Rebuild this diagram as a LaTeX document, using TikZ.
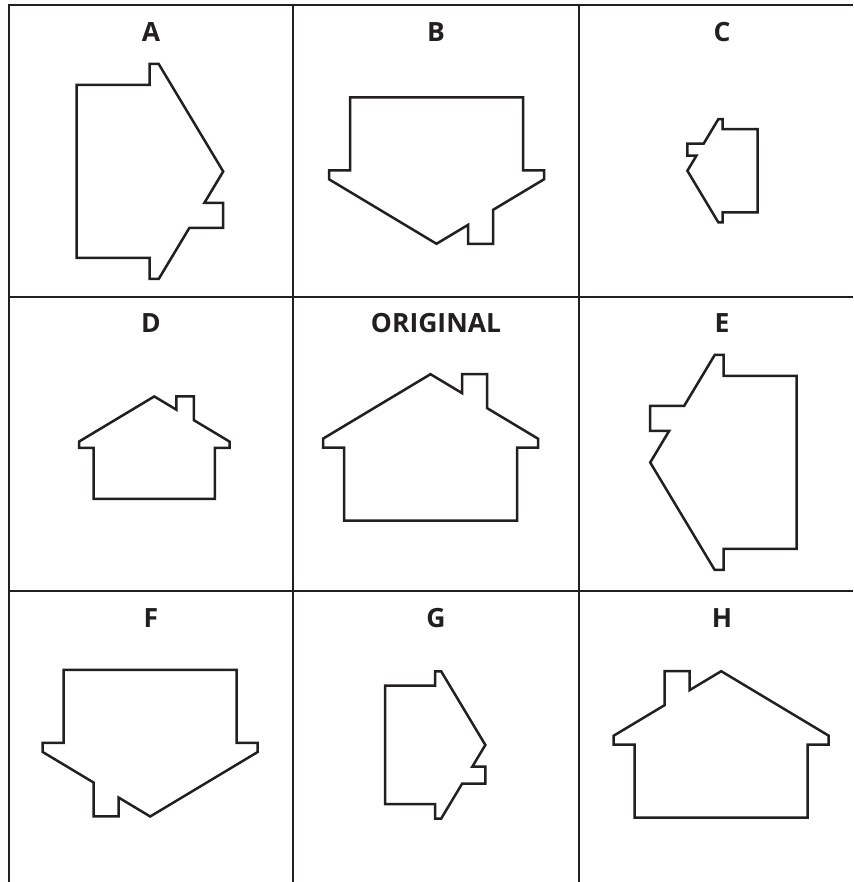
\documentclass[tikz,border=0pt]{standalone}
\usepackage{fontspec}
\setmainfont{Open Sans}
\definecolor{ink}{HTML}{231F20}
\tikzset{
  gridline/.style={draw=ink, line width=2.5pt},
  outline/.style={draw=ink, line width=2.5pt, line join=miter},
  lbl/.style={font=\fontsize{26.5}{30}\selectfont\bfseries, text=ink, inner sep=0pt},
  % house outline: walls 173 wide and 73 high, eaves, roof and chimney
  house/.pic={
    \draw[outline] (0,0) -- (173,0) -- (173,73) -- (194,73) -- (194,82)
      -- (143,112.6) -- (143,146.5) -- (118,146.5) -- (118,127.6)
      -- (86.5,146.5) -- (-21,82) -- (-21,73) -- (0,73) -- cycle;
  }
}
\begin{document}
\begin{tikzpicture}[x=1pt, y=1pt]
  \useasboundingbox (0,0) rectangle (853,882);
  % grid of cells
  \draw[gridline] (9,0) -- (9,877) -- (853,877);
  \draw[gridline] (293,0) -- (293,877);
  \draw[gridline] (579,0) -- (579,877);
  \draw[gridline] (9,585) -- (853,585);
  \draw[gridline] (9,291) -- (853,291);

  % labels
  \node[lbl] (labA) at (151,850) {A};
  \node[lbl] (labB) at (436,850) {B};
  \node[lbl] (labC) at (722,850) {C};
  \node[lbl] (labD) at (151,559) {D};
  \node[lbl] (labO) at (436,559) {ORIGINAL};
  \node[lbl] (labE) at (722,559) {E};
  \node[lbl] (labF) at (151,264) {F};
  \node[lbl] (labG) at (436,264) {G};
  \node[lbl] (labH) at (722,264) {H};

  % houses
  \pic[rotate=-90] at (76.7,797) {house};              % A
  \pic[yscale=-1] at (350,784.7) {house};              % B
  \pic[rotate=90, scale=0.48] at (757.7,669.7) {house}; % C
  \pic[scale=0.7] at (93.7,383) {house};               % D
  \pic at (344,361.3) {house};                         % ORIGINAL
  \pic[rotate=90] at (796.7,333) {house};              % E
  \pic[rotate=180] at (236.7,212) {house};             % F
  \pic[rotate=-90, scale=0.685] at (385,196.3) {house}; % G
  \pic[xscale=-1] at (807.7,64.3) {house};             % H
\end{tikzpicture}
\end{document}
